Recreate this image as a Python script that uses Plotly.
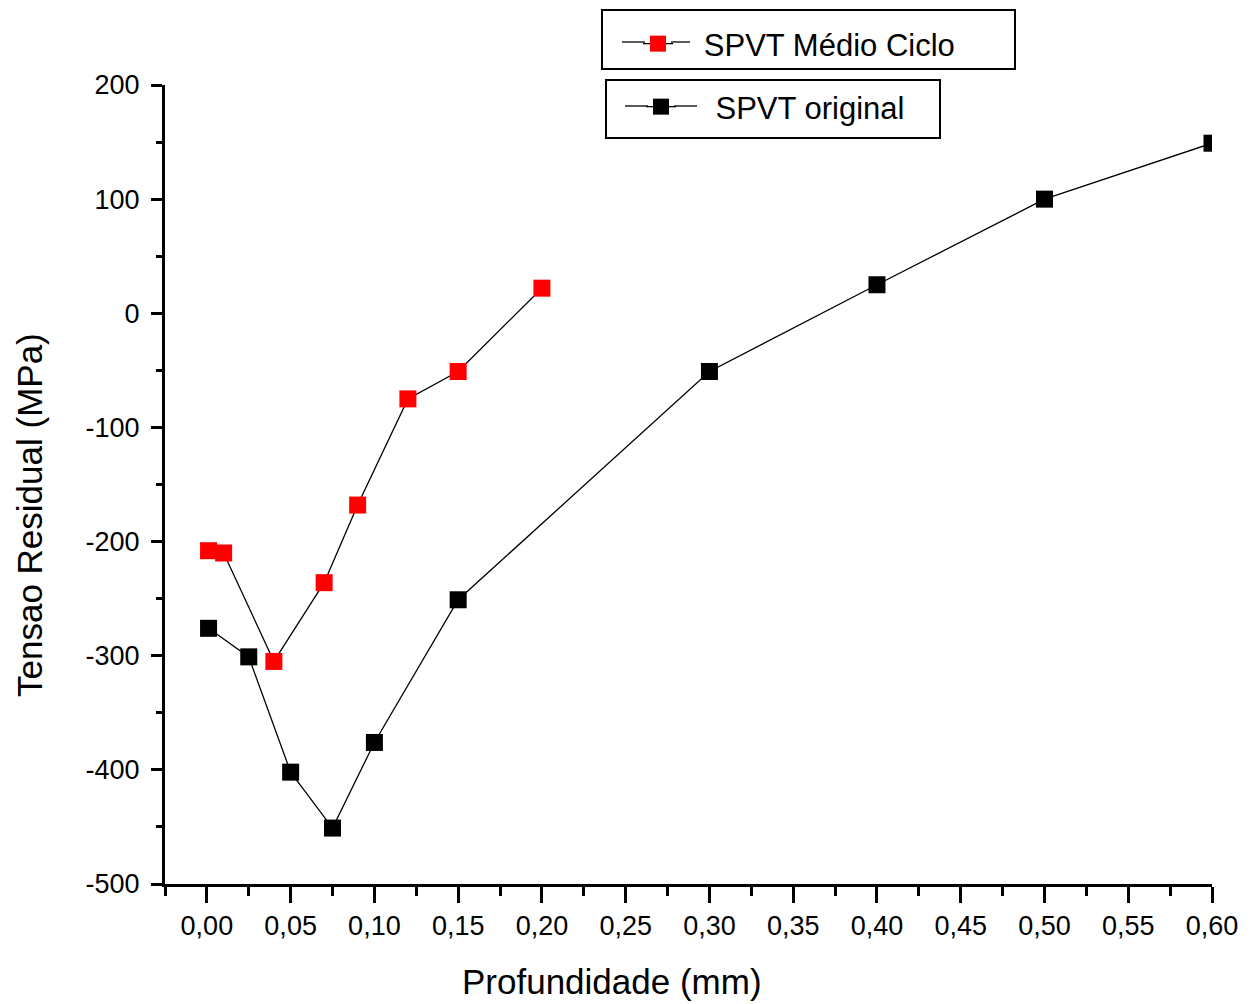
import plotly.graph_objects as go

# Data
medio_x = [0.001, 0.01, 0.04, 0.07, 0.09, 0.12, 0.15, 0.20]
medio_y = [-208, -210, -305, -236, -168, -75, -51, 22]

orig_x = [0.001, 0.025, 0.05, 0.075, 0.10, 0.15, 0.30, 0.40, 0.50, 0.60]
orig_y = [-276, -301, -402, -451, -376, -251, -51, 25, 100, 149]

y_ticks = [200, 100, 0, -100, -200, -300, -400, -500]
y_tick_labels = ["200", "100", "0", "-100", "-200", "-300", "-400", "-500"]

x_title = "Profundidade (mm)"
y_title = "Tensao Residual (MPa)"

FONT = "Liberation Sans, Arial, sans-serif"
NB = "\u00a0"

fig = go.Figure()
fig.add_trace(go.Scatter(
    x=medio_x, y=medio_y, mode="lines+markers", name=NB * 3 + "SPVT Médio Ciclo",
    line=dict(color="black", width=1.3),
    marker=dict(symbol="square", size=17, color="#ff0000", line=dict(width=0)),
    legend="legend",
))
fig.add_trace(go.Scatter(
    x=orig_x, y=orig_y, mode="lines+markers", name=NB * 4 + "SPVT original",
    line=dict(color="black", width=1.3),
    marker=dict(symbol="square", size=17, color="#000000", line=dict(width=0)),
    legend="legend2",
))

W, H = 1258, 1004
L, R, T, B = 165, 46, 85, 120
pw, ph = W - L - R, H - T - B

def px(x):
    return (x - L) / pw

def py(y):
    return (H - B - y) / ph

def hline(x0, x1, y):
    return dict(type="line", xref="paper", yref="paper",
                x0=px(x0), x1=px(x1), y0=py(y), y1=py(y),
                line=dict(color="black", width=1.3))

fig.update_layout(
    width=W, height=H,
    margin=dict(l=L, r=R, t=T, b=B, autoexpand=False),
    paper_bgcolor="white", plot_bgcolor="white",
    separators=",.",
    showlegend=True,
    font=dict(family=FONT, color="black", size=27),
    xaxis=dict(
        range=[-0.025, 0.6], tickmode="linear", tick0=0, dtick=0.05,
        tickformat=".2f", ticks="outside", ticklen=16, tickwidth=2.5,
        tickcolor="black", showline=True, linecolor="black", linewidth=3,
        showgrid=False, zeroline=False, tickangle=0,
        minor=dict(ticks="outside", ticklen=9, tickwidth=2.5, tickcolor="black",
                   dtick=0.025, tick0=0, showgrid=False),
        tickfont=dict(size=27),
    ),
    yaxis=dict(
        range=[-500, 200], tickmode="array", tickvals=y_ticks, ticktext=y_tick_labels,
        ticks="outside", ticklen=11, tickwidth=2.5, tickcolor="black",
        showline=True, linecolor="black", linewidth=3,
        showgrid=False, zeroline=False, ticklabelstandoff=6,
        minor=dict(ticks="outside", ticklen=6, tickwidth=2.5, tickcolor="black",
                   dtick=50, tick0=0, showgrid=False),
        tickfont=dict(size=27),
    ),
    legend=dict(
        xref="container", yref="container", visible=True,
        x=638 / W, y=1 - 44 / H, xanchor="left", yanchor="middle",
        bgcolor="rgba(0,0,0,0)", borderwidth=0, font=dict(size=31),
    ),
    legend2=dict(
        xref="container", yref="container", visible=True,
        x=641 / W, y=1 - 107 / H, xanchor="left", yanchor="middle",
        bgcolor="rgba(0,0,0,0)", borderwidth=0, font=dict(size=31),
    ),
    annotations=[
        dict(text=x_title, xref="paper", yref="paper", x=px(612), y=py(981),
             xanchor="center", yanchor="middle", showarrow=False,
             font=dict(size=35)),
        dict(text=y_title, xref="paper", yref="paper", x=px(29), y=py(515),
             xanchor="center", yanchor="middle", showarrow=False, textangle=-90,
             font=dict(size=35)),
    ],
    shapes=[
        dict(type="rect", xref="paper", yref="paper",
             x0=px(602), x1=px(1015), y0=py(69), y1=py(10),
             line=dict(color="black", width=2), fillcolor="rgba(0,0,0,0)"),
        dict(type="rect", xref="paper", yref="paper",
             x0=px(606), x1=px(940), y0=py(138), y1=py(80),
             line=dict(color="black", width=2), fillcolor="rgba(0,0,0,0)"),
        hline(622, 645, 42),
        hline(671, 690, 42),
        hline(625, 648, 106),
        hline(674, 697, 106),
    ],
)

fig.write_html("out.html")
